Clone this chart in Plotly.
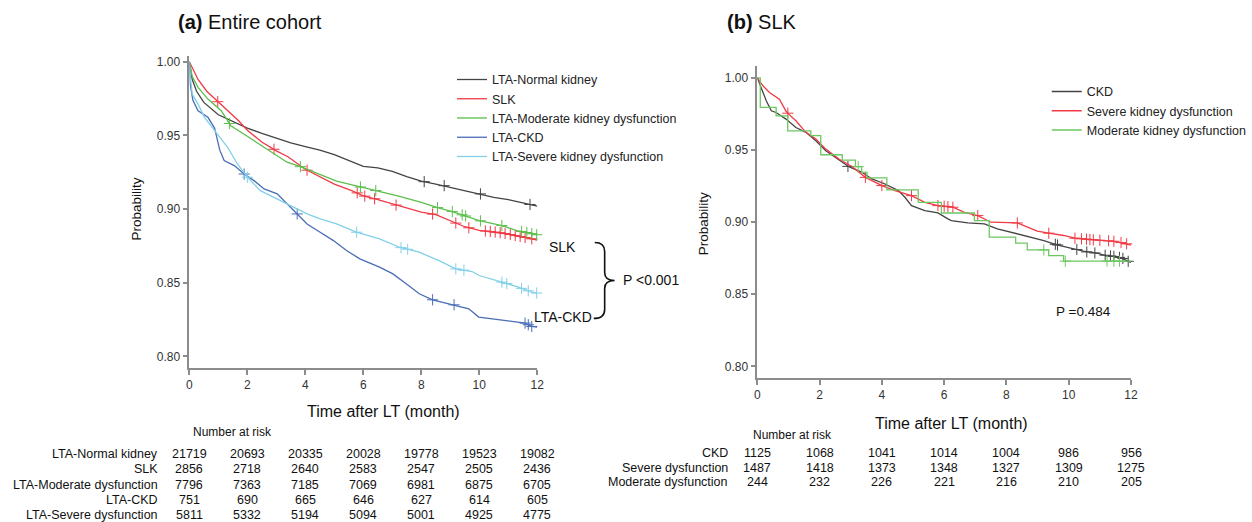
import plotly.graph_objects as go

W, H = 1252, 522


def px(x):
    return x / W


def py(y):
    return 1 - y / H


# ---------------- (a) Entire cohort: KM curves ----------------
t_normal = [0, 0.1, 0.25, 0.5, 1, 1.5, 2, 2.5, 3, 3.5, 4, 4.5, 5, 5.5, 6, 6.5, 7, 7.5, 8, 8.5, 9, 9.5, 10, 10.5, 11, 11.5, 12]
s_normal = [1.0, 0.988, 0.980, 0.9724, 0.964, 0.9593, 0.955, 0.9514, 0.948, 0.945, 0.9424, 0.940, 0.937, 0.933, 0.929, 0.928, 0.9256, 0.922, 0.9189, 0.917, 0.9148, 0.9125, 0.910, 0.908, 0.9064, 0.904, 0.902]
ct_normal = [8.1, 8.79, 10.04, 11.75]
cs_normal = [0.9186, 0.9159, 0.9103, 0.9031]

t_slk = [0, 0.1, 0.3, 0.6, 1.0, 1.3, 1.7, 2.0, 2.5, 3.0, 3.4, 4.0, 4.5, 5.0, 5.6, 6.0, 6.5, 7.0, 7.5, 8.0, 8.5, 9.0, 9.5, 10.0, 10.5, 11.0, 11.5, 12.0]
s_slk = [1.0, 0.996, 0.988, 0.980, 0.9725, 0.967, 0.960, 0.9535, 0.9455, 0.9395, 0.9355, 0.927, 0.922, 0.917, 0.9125, 0.909, 0.9065, 0.9035, 0.9005, 0.898, 0.8962, 0.892, 0.888, 0.8855, 0.8845, 0.883, 0.881, 0.879]
ct_slk = [0.98, 2.92, 4.06, 5.79, 6.05, 6.39, 7.13, 8.39, 9.19, 9.64, 10.21, 10.38, 10.55, 10.72, 10.89, 11.07, 11.24, 11.41, 11.58, 11.81]
cs_slk = [0.9729, 0.9406, 0.9264, 0.911, 0.9088, 0.907, 0.9027, 0.8966, 0.8905, 0.8873, 0.8851, 0.8848, 0.8844, 0.884, 0.8834, 0.8827, 0.882, 0.8814, 0.8807, 0.8798]

t_mod = [0, 0.1, 0.3, 0.64, 1.1, 1.43, 2.0, 2.58, 3.03, 3.37, 3.83, 4.5, 5.08, 5.9, 6.45, 7.25, 8.0, 8.56, 9.07, 9.5, 10.0, 10.78, 11.3, 12.0]
s_mod = [1.0, 0.990, 0.9826, 0.9747, 0.9668, 0.9566, 0.9494, 0.942, 0.9363, 0.9318, 0.9288, 0.9238, 0.919, 0.915, 0.9125, 0.9087, 0.9046, 0.901, 0.8983, 0.8955, 0.8922, 0.8888, 0.8854, 0.8825]
ct_mod = [1.38, 3.83, 5.9, 6.43, 8.56, 9.07, 9.41, 9.53, 10.04, 10.78, 11.46, 11.64, 11.81, 11.98]
cs_mod = [0.9581, 0.9288, 0.915, 0.9126, 0.901, 0.8983, 0.8961, 0.8953, 0.892, 0.8888, 0.8848, 0.8841, 0.8833, 0.8826]

t_ckd = [0, 0.03, 0.12, 0.3, 0.64, 0.87, 1.05, 1.2, 1.55, 1.89, 2.23, 2.58, 3.03, 3.37, 3.72, 4.06, 4.51, 4.97, 5.42, 5.88, 6.56, 7.02, 7.48, 7.93, 8.39, 9.07, 9.64, 9.98, 10.78, 11.58, 11.81, 12.0]
s_ckd = [1.0, 0.985, 0.974, 0.9668, 0.9623, 0.955, 0.940, 0.933, 0.9295, 0.9238, 0.9193, 0.9137, 0.9103, 0.9035, 0.8967, 0.8899, 0.8843, 0.8786, 0.8719, 0.8662, 0.8606, 0.856, 0.8493, 0.8425, 0.8384, 0.8353, 0.8323, 0.8267, 0.8249, 0.8226, 0.8203, 0.8199]
ct_ckd = [1.89, 3.72, 8.39, 9.13, 11.58, 11.69, 11.81]
cs_ckd = [0.9238, 0.8967, 0.8384, 0.835, 0.8226, 0.8215, 0.8203]

t_sev = [0, 0.03, 0.1, 0.3, 0.52, 0.98, 1.32, 1.66, 2.0, 2.45, 3.03, 3.6, 4.06, 4.51, 5.08, 5.76, 6.56, 7.25, 7.93, 8.61, 9.19, 9.75, 10.0, 10.78, 11.35, 11.81, 12.0]
s_sev = [1.0, 0.990, 0.978, 0.9713, 0.9623, 0.951, 0.9419, 0.9306, 0.9216, 0.9125, 0.9069, 0.9012, 0.8967, 0.8933, 0.8899, 0.8843, 0.8798, 0.8741, 0.8707, 0.865, 0.8594, 0.8576, 0.8549, 0.8504, 0.847, 0.8436, 0.843]
ct_sev = [2.0, 5.77, 7.3, 7.53, 9.19, 9.47, 10.78, 10.95, 11.46, 11.69, 11.98]
cs_sev = [0.9216, 0.8843, 0.8738, 0.8727, 0.8594, 0.8585, 0.8504, 0.8494, 0.8462, 0.8445, 0.843]

# ---------------- (b) SLK: KM curves ----------------
t_r_ckd = [0, 0.13, 0.29, 0.45, 0.6, 0.92, 1.24, 1.56, 1.88, 2.2, 2.51, 2.94, 3.36, 3.68, 4.1, 4.53, 4.74, 4.95, 5.38, 5.8, 6.12, 6.23, 6.76, 7.29, 7.71, 8.14, 8.67, 9.2, 9.62, 10.05, 10.47, 10.9, 11.2, 11.5, 11.75, 12.0]
s_r_ckd = [1.0, 0.9933, 0.984, 0.9772, 0.976, 0.9714, 0.9656, 0.9622, 0.9564, 0.9495, 0.9449, 0.9384, 0.9345, 0.9299, 0.9264, 0.9218, 0.9172, 0.9114, 0.908, 0.9063, 0.9022, 0.901, 0.8994, 0.8987, 0.8953, 0.893, 0.89, 0.8872, 0.8842, 0.8819, 0.8798, 0.8784, 0.8768, 0.876, 0.8745, 0.872]
ct_r_ckd = [2.91, 9.57, 9.64, 10.26, 10.58, 10.84, 11.17, 11.34, 11.45, 11.63, 11.74, 11.91]
cs_r_ckd = [0.9386, 0.8846, 0.8841, 0.881, 0.8793, 0.8786, 0.877, 0.8765, 0.8762, 0.8755, 0.8748, 0.8728]

t_r_sev = [0, 0.18, 0.39, 0.71, 0.92, 1.0, 1.24, 1.56, 1.88, 2.2, 2.62, 3.05, 3.47, 4.0, 4.42, 4.95, 5.38, 5.8, 6.28, 6.65, 7.08, 7.5, 8.35, 8.56, 8.99, 9.36, 9.84, 10.2, 11.11, 11.5, 12.0]
s_r_sev = [1.0, 0.9945, 0.9898, 0.9852, 0.977, 0.975, 0.9702, 0.9622, 0.9576, 0.9506, 0.9437, 0.9384, 0.931, 0.9253, 0.9218, 0.9183, 0.9137, 0.9114, 0.9103, 0.9068, 0.9045, 0.8999, 0.8994, 0.8976, 0.8937, 0.8923, 0.8907, 0.8888, 0.8872, 0.8865, 0.884]
ct_r_sev = [0.98, 3.47, 4.0, 4.95, 5.8, 6.0, 6.12, 6.28, 7.08, 8.35, 9.36, 10.2, 10.41, 10.57, 10.68, 10.79, 11.0, 11.28, 11.45, 11.68, 11.86]
cs_r_sev = [0.9755, 0.931, 0.9253, 0.9183, 0.9114, 0.911, 0.9107, 0.9103, 0.9045, 0.8994, 0.8923, 0.8888, 0.8884, 0.8881, 0.8879, 0.8877, 0.8874, 0.887, 0.8867, 0.8858, 0.8849]

t_r_mod = [0, 0.095, 0.605, 0.976, 1.719, 2.037, 2.727, 3.151, 3.35, 3.523, 4.159, 5.167, 5.91, 6.971, 7.448, 8.297, 8.668, 9.358, 9.836, 12.0]
s_r_mod = [1.0, 0.9795, 0.9737, 0.9633, 0.9599, 0.9467, 0.943, 0.9384, 0.9345, 0.9306, 0.9223, 0.9137, 0.9063, 0.901, 0.8895, 0.8854, 0.8807, 0.8768, 0.8729, 0.8729]
ct_r_mod = [3.24, 9.2, 9.89, 11.23, 11.45, 11.63]
cs_r_mod = [0.9384, 0.8807, 0.8729, 0.8729, 0.8729, 0.8729]

# ---------------- Risk tables ----------------
risk_times = [0, 2, 4, 6, 8, 10, 12]
risk_labels_a = ["LTA-Normal kidney", "SLK", "LTA-Moderate dysfunction", "LTA-CKD", "LTA-Severe dysfunction"]
risk_a = [
    [21719, 20693, 20335, 20028, 19778, 19523, 19082],
    [2856, 2718, 2640, 2583, 2547, 2505, 2436],
    [7796, 7363, 7185, 7069, 6981, 6875, 6705],
    [751, 690, 665, 646, 627, 614, 605],
    [5811, 5332, 5194, 5094, 5001, 4925, 4775],
]
risk_labels_b = ["CKD", "Severe dysfunction", "Moderate dysfunction"]
risk_b = [
    [1125, 1068, 1041, 1014, 1004, 986, 956],
    [1487, 1418, 1373, 1348, 1327, 1309, 1275],
    [244, 232, 226, 221, 216, 210, 205],
]

FONT = "Liberation Sans, Arial, Helvetica, sans-serif"
NARROW = "Liberation Sans Narrow, Arial Narrow, Liberation Sans, sans-serif"

C_BLACK = "#444444"
C_RED = "#f03a45"
C_GREEN = "#5cbf4c"
C_BLUE = "#4a6db5"
C_CYAN = "#82d0e8"

fig = go.Figure()


def add_curve(t, s, ct, cs, name, color, xa, ya, legend, shape="linear"):
    fig.add_trace(go.Scatter(
        x=t, y=s, mode="lines", name=name,
        line=dict(color=color, width=1.3, shape=shape),
        xaxis=xa, yaxis=ya, legend=legend, hoverinfo="skip"))
    fig.add_trace(go.Scatter(
        x=ct, y=cs, mode="markers", showlegend=False,
        marker=dict(symbol="cross-thin", size=8, color=color,
                    line=dict(color=color, width=1)),
        xaxis=xa, yaxis=ya, cliponaxis=False, hoverinfo="skip"))


add_curve(t_normal, s_normal, ct_normal, cs_normal, "LTA-Normal kidney", C_BLACK, "x", "y", "legend")
add_curve(t_slk, s_slk, ct_slk, cs_slk, "SLK", C_RED, "x", "y", "legend")
add_curve(t_mod, s_mod, ct_mod, cs_mod, "LTA-Moderate kidney dysfunction", C_GREEN, "x", "y", "legend")
add_curve(t_ckd, s_ckd, ct_ckd, cs_ckd, "LTA-CKD", C_BLUE, "x", "y", "legend")
add_curve(t_sev, s_sev, ct_sev, cs_sev, "LTA-Severe kidney dysfunction", C_CYAN, "x", "y", "legend")

add_curve(t_r_ckd, s_r_ckd, ct_r_ckd, cs_r_ckd, "CKD", C_BLACK, "x2", "y2", "legend2")
add_curve(t_r_sev, s_r_sev, ct_r_sev, cs_r_sev, "Severe kidney dysfunction", C_RED, "x2", "y2", "legend2")
add_curve(t_r_mod, s_r_mod, ct_r_mod, cs_r_mod, "Moderate kidney dysfunction", "#6cc860", "x2", "y2", "legend2", shape="hv")

axis_common = dict(
    showline=True, linecolor="#8c8c8c", linewidth=1.5,
    ticks="outside", ticklen=5, tickcolor="#8c8c8c", tickwidth=1.5,
    showgrid=False, zeroline=False,
    tickfont=dict(family=FONT, size=12, color="#333333"),
)

fig.update_layout(
    width=W, height=H,
    margin=dict(l=0, r=0, t=0, b=0),
    paper_bgcolor="white", plot_bgcolor="white",
    xaxis=dict(domain=[px(188), px(539)], range=[0, 12], tickvals=risk_times, anchor="y", **axis_common),
    yaxis=dict(domain=[py(368), py(55)], range=[0.7919, 1.004],
               tickvals=[0.80, 0.85, 0.90, 0.95, 1.00], tickformat=".2f", anchor="x", **axis_common),
    xaxis2=dict(domain=[px(761), px(1138)], range=[0, 12], tickvals=risk_times, anchor="y2", **axis_common),
    yaxis2=dict(domain=[py(378), py(65)], range=[0.7917, 1.0083],
                tickvals=[0.80, 0.85, 0.90, 0.95, 1.00], tickformat=".2f", anchor="x2", **axis_common),
    legend=dict(x=px(453), y=py(64), xanchor="left", yanchor="top",
                font=dict(family=FONT, size=12.5, color="#222222"),
                bgcolor="rgba(0,0,0,0)", tracegroupgap=0, itemwidth=30),
    legend2=dict(x=px(1053), y=py(76), xanchor="left", yanchor="top",
                 font=dict(family=FONT, size=12.5, color="#222222"),
                 bgcolor="rgba(0,0,0,0)", tracegroupgap=0, itemwidth=30),
    showlegend=True,
)

ann = []


def text(x, y, s, size=12, family=FONT, xanchor="center", angle=0, xref="paper"):
    ann.append(dict(x=x, y=y, xref=xref, yref="paper", text=s, showarrow=False,
                    xanchor=xanchor, yanchor="middle", textangle=angle,
                    font=dict(family=family, size=size, color="#111111")))


# titles
text(px(175), py(21), "<b>(a)</b> Entire cohort", size=20, xanchor="left")
text(px(728), py(21), "<b>(b)</b> SLK", size=20, xanchor="left")
# axis titles
text(px(135), py(208), "Probability", size=13.5, angle=-90)
text(px(707), py(223), "Probability", size=13.5, angle=-90)
text(px(384), py(411), "Time after LT (month)", size=16)
text(px(957), py(423), "Time after LT (month)", size=16)
# bracket labels / p-values
text(px(580), py(246), "SLK", size=14, xanchor="right")
text(px(596), py(317), "LTA-CKD", size=14, xanchor="right")
text(px(623), py(280), "P <0.001", size=14, xanchor="left")
text(px(1060), py(311), "P =0.484", size=13.5, xanchor="left")

# risk table (a)
text(px(190), py(432), "Number at risk", size=12, family=NARROW, xanchor="left")
rows_a_y = [454, 469, 485, 500, 515]
for lab, vals, yy in zip(risk_labels_a, risk_a, rows_a_y):
    text(px(158), py(yy), lab, size=12.5, xanchor="right")
    for t, v in zip(risk_times, vals):
        text(t, py(yy), str(v), size=12.5, family=NARROW, xref="x")

# risk table (b)
text(px(755), py(435), "Number at risk", size=12, family=NARROW, xanchor="left")
rows_b_y = [453, 468, 482]
for lab, vals, yy in zip(risk_labels_b, risk_b, rows_b_y):
    text(px(733), py(yy), lab, size=12.5, xanchor="right")
    for t, v in zip(risk_times, vals):
        text(t, py(yy), str(v), size=12.5, family=NARROW, xref="x2")

fig.update_layout(annotations=ann)

# bracket joining SLK and LTA-CKD
bracket = (
    f"M {px(597)},{py(242)} Q {px(607)},{py(242)} {px(607)},{py(251)} "
    f"L {px(607)},{py(272)} Q {px(607)},{py(280)} {px(617)},{py(280)} "
    f"Q {px(607)},{py(280)} {px(607)},{py(288)} L {px(607)},{py(309)} "
    f"Q {px(607)},{py(318)} {px(596)},{py(318)}"
)
fig.add_shape(type="path", path=bracket, xref="paper", yref="paper",
              line=dict(color="#111111", width=1.6))

fig.write_html("out.html", config={"displayModeBar": False},
               post_script="document.body.style.margin='0';")
